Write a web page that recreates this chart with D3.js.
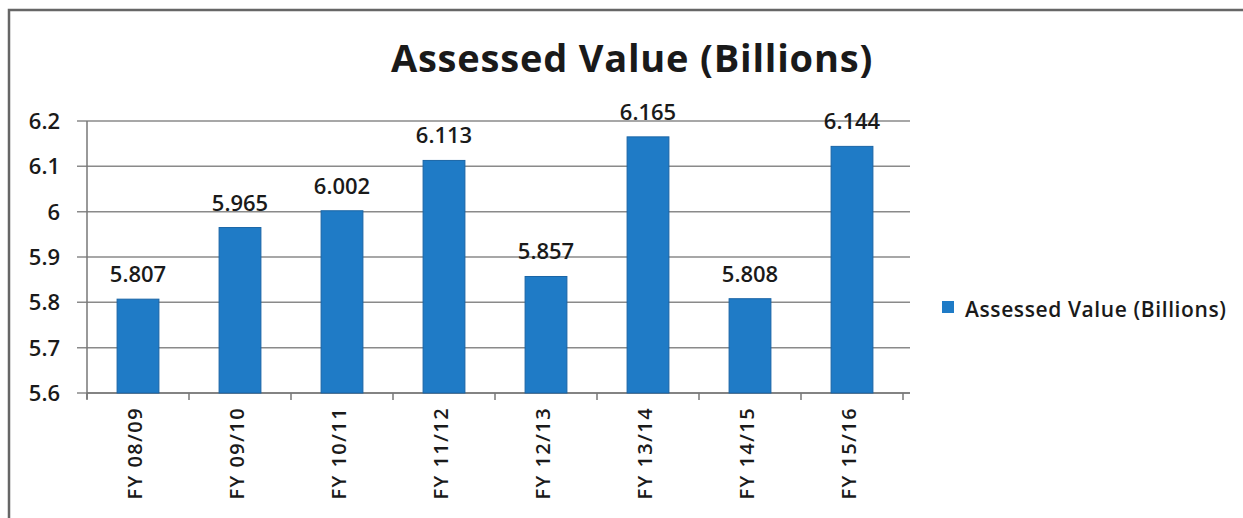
<!DOCTYPE html>
<html>
<head>
<meta charset="utf-8">
<script src="https://cdn.jsdelivr.net/npm/d3@7"></script>
<style>
  body { margin: 0; background: #fff; }
  svg { display: block; font-family: "Open Sans", "Noto Sans", sans-serif; }
</style>
</head>
<body>
<svg id="chart" width="1243" height="518"></svg>
<script>
// data
const years = ['FY 08/09', 'FY 09/10', 'FY 10/11', 'FY 11/12', 'FY 12/13', 'FY 13/14', 'FY 14/15', 'FY 15/16']
const values = [5.807, 5.965, 6.002, 6.113, 5.857, 6.165, 5.808, 6.144]
const yTicks = [5.6, 5.7, 5.8, 5.9, 6, 6.1, 6.2]
const seriesName = 'Assessed Value (Billions)'

const textColor = '#1a1a1a'
const barColor = '#1f7bc6'

const svg = d3.select('#chart')

// chart frame
svg.append('rect')
  .attr('x', 9).attr('y', 10)
  .attr('width', 1260).attr('height', 520)
  .attr('fill', 'none')
  .attr('stroke', '#666')
  .attr('stroke-width', 2.5)

const plotLeft = 87, plotRight = 903, plotTop = 121, plotBottom = 393

const x = d3.scaleBand().domain(years).range([plotLeft, plotRight]).paddingInner(0.59).paddingOuter(0.295)
const y = d3.scaleLinear().domain([5.6, 6.2]).range([plotBottom, plotTop])

// gridlines
svg.append('g')
  .selectAll('line')
  .data(yTicks)
  .join('line')
  .attr('x1', 77).attr('x2', 910)
  .attr('y1', d => y(d)).attr('y2', d => y(d))
  .attr('stroke', '#8a8a8a')
  .attr('stroke-width', 1.5)

// y labels
svg.append('g')
  .selectAll('text')
  .data(yTicks)
  .join('text')
  .attr('x', 60)
  .attr('y', d => y(d) + 8)
  .attr('text-anchor', 'end')
  .attr('font-size', 22)
  .attr('font-weight', 600)
  .attr('fill', textColor)
  .text(d => d)

// y axis line
svg.append('line')
  .attr('x1', plotLeft).attr('x2', plotLeft)
  .attr('y1', plotTop).attr('y2', plotBottom + 6)
  .attr('stroke', '#777').attr('stroke-width', 1.5)

// x axis
const xAxis = svg.append('g')
  .attr('transform', `translate(0,${plotBottom})`)
  .call(d3.axisBottom(x).tickSize(0).tickFormat(''))
xAxis.select('.domain').attr('stroke', '#777').attr('stroke-width', 1.5)
  .attr('d', `M${plotLeft},0H${plotRight + 7}`)

// category boundary ticks
svg.append('g')
  .selectAll('line')
  .data(d3.range(years.length + 1))
  .join('line')
  .attr('x1', i => plotLeft + i * (plotRight - plotLeft) / years.length)
  .attr('x2', i => plotLeft + i * (plotRight - plotLeft) / years.length)
  .attr('y1', plotBottom).attr('y2', plotBottom + 7)
  .attr('stroke', '#777').attr('stroke-width', 1.5)

// bars
svg.append('g')
  .selectAll('rect')
  .data(values)
  .join('rect')
  .attr('x', (d, i) => x(years[i]))
  .attr('y', d => y(d))
  .attr('width', x.bandwidth())
  .attr('height', d => plotBottom - y(d))
  .attr('fill', barColor)
  .attr('stroke', '#1a65a6')
  .attr('stroke-width', 1)

// value labels
svg.append('g')
  .selectAll('text')
  .data(values)
  .join('text')
  .attr('x', (d, i) => x(years[i]) + x.bandwidth() / 2)
  .attr('y', d => y(d) - 17)
  .attr('text-anchor', 'middle')
  .attr('font-size', 22)
  .attr('font-weight', 600)
  .attr('fill', textColor)
  .text(d => d3.format('.3f')(d))

// category labels (rotated)
svg.append('g')
  .selectAll('text')
  .data(years)
  .join('text')
  .attr('transform', d => `translate(${x(d) + x.bandwidth() / 2 + 4},${plotBottom + 14}) rotate(-90)`)
  .attr('text-anchor', 'end')
  .attr('font-size', 20)
  .attr('font-weight', 600)
  .attr('letter-spacing', 1.4)
  .attr('fill', textColor)
  .text(d => d)

// title
svg.append('text')
  .attr('x', 632).attr('y', 72)
  .attr('text-anchor', 'middle')
  .attr('font-size', 38)
  .attr('font-weight', 'bold')
  .attr('letter-spacing', 0.8)
  .attr('fill', textColor)
  .text(seriesName)

// legend
const legend = svg.append('g').attr('transform', 'translate(942,301)')
legend.append('rect')
  .attr('width', 12).attr('height', 12)
  .attr('fill', barColor)
legend.append('text')
  .attr('x', 23).attr('y', 16)
  .attr('font-size', 21)
  .attr('font-weight', 600)
  .attr('letter-spacing', 0.6)
  .attr('fill', textColor)
  .text(seriesName)
</script>
</body>
</html>
